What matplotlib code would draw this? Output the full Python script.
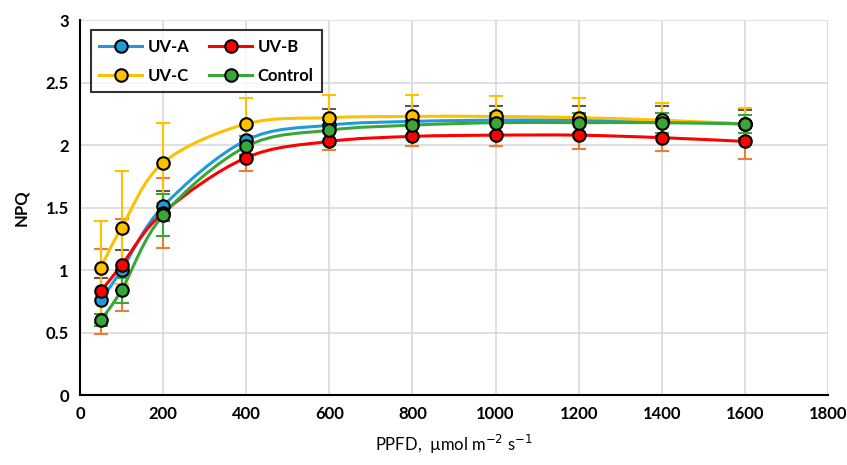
import numpy as np
import matplotlib
matplotlib.use("Agg")
import matplotlib.pyplot as plt
from matplotlib.path import Path
from matplotlib.patches import PathPatch
from matplotlib.lines import Line2D

plt.rcParams['font.family'] = ['Lato', 'DejaVu Sans']

# PPFD levels (µmol m-2 s-1)
ppfd = [50, 100, 200, 400, 600, 800, 1000, 1200, 1400, 1600]

uva = [0.76, 1.00, 1.51, 2.04, 2.16, 2.19, 2.20, 2.20, 2.19, 2.17]
uvb = [0.83, 1.04, 1.46, 1.90, 2.03, 2.07, 2.08, 2.08, 2.06, 2.03]
uvc = [1.02, 1.34, 1.86, 2.17, 2.22, 2.23, 2.23, 2.22, 2.20, 2.17]
ctrl = [0.60, 0.84, 1.44, 1.99, 2.12, 2.16, 2.18, 2.18, 2.18, 2.17]

uva_err = [0.18, 0.16, 0.12, 0.12, 0.13, 0.12, 0.11, 0.11, 0.12, 0.11]
uvb_err = [0.34, 0.37, 0.28, 0.11, 0.07, 0.08, 0.09, 0.11, 0.11, 0.14]
uvc_err = [0.37, 0.45, 0.32, 0.21, 0.18, 0.17, 0.16, 0.16, 0.14, 0.13]
ctrl_err = [0.05, 0.10, 0.17, 0.08, 0.08, 0.08, 0.08, 0.08, 0.08, 0.07]

labels = ["UV-A", "UV-B", "UV-C", "Control"]
line_colors = ["#1E9BDC", "#FF0000", "#FFC000", "#3AA63A"]
err_colors = ["#595959", "#ED7D31", "#FFC000", "#3AA63A"]


def smooth_path(x, y):
    # Excel-style smoothed line: cubic Bezier segments through the points
    pts = np.column_stack([x, y]).astype(float)
    n = len(pts)
    verts = [pts[0]]
    codes = [Path.MOVETO]
    for i in range(n - 1):
        p0 = pts[i - 1] if i > 0 else pts[i]
        p1, p2 = pts[i], pts[i + 1]
        p3 = pts[i + 2] if i + 2 < n else pts[i + 1]
        c1 = p1 + (p2 - p0) / 6.0
        c2 = p2 - (p3 - p1) / 6.0
        verts += [c1, c2, p2]
        codes += [Path.CURVE4] * 3
    return Path(verts, codes)


fig = plt.figure(figsize=(8.47, 4.65), dpi=100)
ax = fig.add_axes([0.0945, 0.1505, 0.883, 0.806])

series = [uva, uvb, uvc, ctrl]
errs = [uva_err, uvb_err, uvc_err, ctrl_err]

# error bars first (behind lines)
for y, e, ec in zip(series, errs, err_colors):
    ax.errorbar(ppfd, y, yerr=e, fmt="none", ecolor=ec, elinewidth=1.5,
                capsize=5, capthick=1.5, zorder=2)

for y, lc in zip(series, line_colors):
    ax.add_patch(PathPatch(smooth_path(ppfd, y), facecolor="none",
                           edgecolor=lc, lw=2.2, zorder=3))
    ax.plot(ppfd, y, ls="none", marker="o", ms=9, mfc=lc, mec="black",
            mew=1.5, zorder=4)

ax.set_xlim(0, 1800)
ax.set_ylim(0, 3)
ax.set_xticks(np.arange(0, 1801, 200))
ax.set_yticks([0, 0.5, 1, 1.5, 2, 2.5, 3])
ax.set_yticklabels(["0", "0.5", "1", "1.5", "2", "2.5", "3"])
ax.tick_params(length=0, labelsize=12, pad=8)
for t in ax.get_xticklabels() + ax.get_yticklabels():
    t.set_fontweight("bold")

ax.grid(True, color="#D9D9D9", lw=1.2)
ax.set_axisbelow(True)
for s in ["top", "right"]:
    ax.spines[s].set_visible(False)
for s in ["left", "bottom"]:
    ax.spines[s].set_color("black")
    ax.spines[s].set_linewidth(1.5)
    ax.spines[s].set_zorder(5)

ax.set_xlabel("PPFD,  µmol m$^{-2}$ s$^{-1}$", fontsize=12, labelpad=8)
ax.set_ylabel("NPQ", fontsize=12, fontweight="bold", labelpad=12)

# matplotlib fills legend columns first: reorder so rows read UV-A, UV-B / UV-C, Control
order = [0, 2, 1, 3]
handles = [Line2D([], [], color=line_colors[i], lw=2.2, marker="o", ms=9,
                  mfc=line_colors[i], mec="black", mew=1.5) for i in order]
leg = ax.legend(handles, [labels[i] for i in order], loc="upper left", ncol=2,
                bbox_to_anchor=(0.003, 0.995), frameon=True, fancybox=False,
                edgecolor="black", handlelength=2.6, columnspacing=1.2,
                borderpad=0.5, labelspacing=0.8, handletextpad=0.3,
                prop={"weight": "bold", "size": 12})
leg.get_frame().set_linewidth(1.5)

fig.savefig("out.png", dpi=100)
